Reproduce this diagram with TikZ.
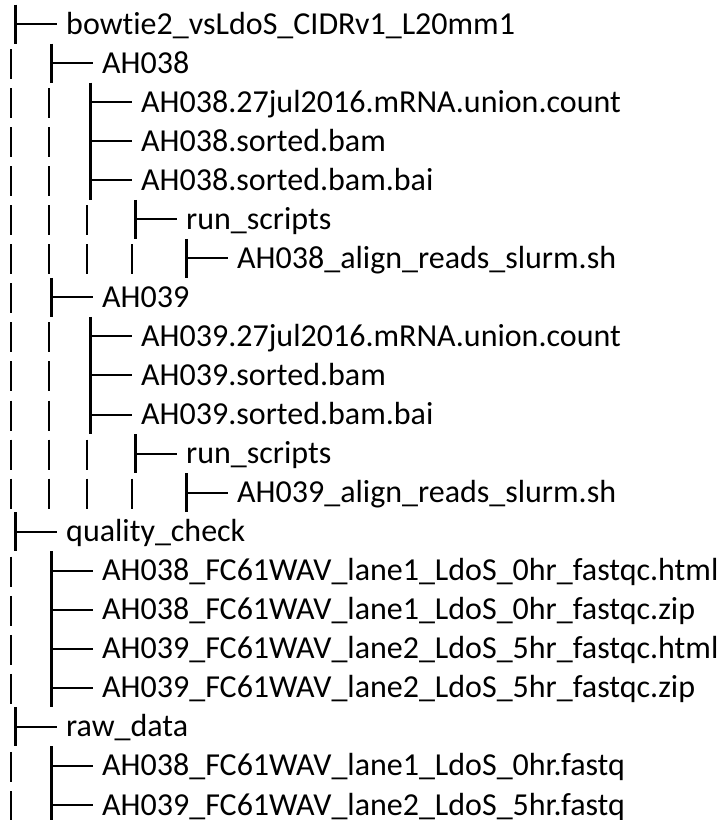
\documentclass[tikz,border=0pt]{standalone}
\usepackage{fontspec}
\setmainfont{Carlito}[Ligatures=NoCommon]
\newcommand{\rowy}[1]{24+(#1-1)*39.05}

\begin{document}
\begin{tikzpicture}[
    x=1pt, y=-1pt,
    entry/.style={anchor=west, inner sep=0pt, text height=20pt, text depth=0pt, font=\fontsize{32}{38}\selectfont},
    bar/.style={line width=3pt},
    stem/.style={line width=2pt},
    pipe/.style={line width=2.5pt}
]
\useasboundingbox (0,0) rectangle (721,820);

% Top folder
\node[entry] (bowtie) at (66,{\rowy{1}}) {bowt\kern0pt ie2\_vsLdoS\_CIDRv1\_L20mm1};

% Sample AH038
\node[entry] (ahA) at (102,{\rowy{2}}) {AH038};
\node[entry] (ahAcount) at (141,{\rowy{3}}) {AH038.27jul2016.mRNA.union.count};
\node[entry] (ahAbam) at (141,{\rowy{4}}) {AH038.sorted.bam};
\node[entry] (ahAbai) at (141,{\rowy{5}}) {AH038.sorted.bam.bai};
\node[entry] (ahAscripts) at (186,{\rowy{6}}) {run\_scripts};
\node[entry] (ahAslurm) at (237,{\rowy{7}}) {AH038\_align\_reads\_slurm.sh};

% Sample AH039
\node[entry] (ahB) at (102,{\rowy{8}}) {AH039};
\node[entry] (ahBcount) at (141,{\rowy{9}}) {AH039.27jul2016.mRNA.union.count};
\node[entry] (ahBbam) at (141,{\rowy{10}}) {AH039.sorted.bam};
\node[entry] (ahBbai) at (141,{\rowy{11}}) {AH039.sorted.bam.bai};
\node[entry] (ahBscripts) at (186,{\rowy{12}}) {run\_scripts};
\node[entry] (ahBslurm) at (237,{\rowy{13}}) {AH039\_align\_reads\_slurm.sh};

% Quality check
\node[entry] (qc) at (66,{\rowy{14}}) {quality\_check};
\node[entry] (qcAhtml) at (102,{\rowy{15}}) {AH038\_FC61WAV\_lane1\_LdoS\_0hr\_fastqc.html};
\node[entry] (qcAzip) at (102,{\rowy{16}}) {AH038\_FC61WAV\_lane1\_LdoS\_0hr\_fastqc.zip};
\node[entry] (qcBhtml) at (102,{\rowy{17}}) {AH039\_FC61WAV\_lane2\_LdoS\_5hr\_fastqc.html};
\node[entry] (qcBzip) at (102,{\rowy{18}}) {AH039\_FC61WAV\_lane2\_LdoS\_5hr\_fastqc.zip};

% Raw data
\node[entry] (raw) at (66,{\rowy{19}}) {raw\_data};
\node[entry] (rawA) at (102,{\rowy{20}}) {AH038\_FC61WAV\_lane1\_LdoS\_0hr.fastq};
\node[entry] (rawB) at (102,{\rowy{21}}) {AH039\_FC61WAV\_lane2\_LdoS\_5hr.fastq};

% Branch bars
\draw[bar] ([xshift=-51pt,yshift=19.5pt]bowtie.west) -- ([xshift=-51pt,yshift=-19.5pt]bowtie.west);
\draw[bar] ([xshift=-51pt,yshift=19.5pt]ahA.west) -- ([xshift=-51pt,yshift=-19.5pt]ahA.west);
\draw[bar] ([xshift=-51pt,yshift=19.5pt]ahAcount.west) -- ([xshift=-51pt,yshift=-19.5pt]ahAbai.west);
\draw[bar] ([xshift=-51pt,yshift=19.5pt]ahAscripts.west) -- ([xshift=-51pt,yshift=-19.5pt]ahAscripts.west);
\draw[bar] ([xshift=-51pt,yshift=19.5pt]ahAslurm.west) -- ([xshift=-51pt,yshift=-19.5pt]ahAslurm.west);
\draw[bar] ([xshift=-51pt,yshift=19.5pt]ahB.west) -- ([xshift=-51pt,yshift=-19.5pt]ahB.west);
\draw[bar] ([xshift=-51pt,yshift=19.5pt]ahBcount.west) -- ([xshift=-51pt,yshift=-19.5pt]ahBbai.west);
\draw[bar] ([xshift=-51pt,yshift=19.5pt]ahBscripts.west) -- ([xshift=-51pt,yshift=-19.5pt]ahBscripts.west);
\draw[bar] ([xshift=-51pt,yshift=19.5pt]ahBslurm.west) -- ([xshift=-51pt,yshift=-19.5pt]ahBslurm.west);
\draw[bar] ([xshift=-51pt,yshift=19.5pt]qc.west) -- ([xshift=-51pt,yshift=-19.5pt]qc.west);
\draw[bar] ([xshift=-51pt,yshift=19.5pt]qcAhtml.west) -- ([xshift=-51pt,yshift=-19.5pt]qcBzip.west);
\draw[bar] ([xshift=-51pt,yshift=19.5pt]raw.west) -- ([xshift=-51pt,yshift=-19.5pt]raw.west);
\draw[bar] ([xshift=-51pt,yshift=19.5pt]rawA.west) -- ([xshift=-51pt,yshift=-19.5pt]rawB.west);

% Stems
\foreach \n in {bowtie, ahA, ahAcount, ahAbam, ahAbai, ahAscripts, ahAslurm,
                ahB, ahBcount, ahBbam, ahBbai, ahBscripts, ahBslurm,
                qc, qcAhtml, qcAzip, qcBhtml, qcBzip, raw, rawA, rawB}
  \draw[stem] ([xshift=-51pt]\n.west) -- ([xshift=-9pt]\n.west);

% Pipes
\foreach \r in {2,...,13,15,16,17,18,20,21}
  \draw[pipe] (11,{\rowy{\r}-14}) -- ++(0,30);
\foreach \r in {3,...,7,9,10,...,13}
  \draw[pipe] (49,{\rowy{\r}-14}) -- ++(0,30);
\foreach \r in {6,7,12,13}
  \draw[pipe] (87,{\rowy{\r}-14}) -- ++(0,30);
\foreach \r in {7,13}
  \draw[pipe] (132,{\rowy{\r}-14}) -- ++(0,30);
\end{tikzpicture}
\end{document}
